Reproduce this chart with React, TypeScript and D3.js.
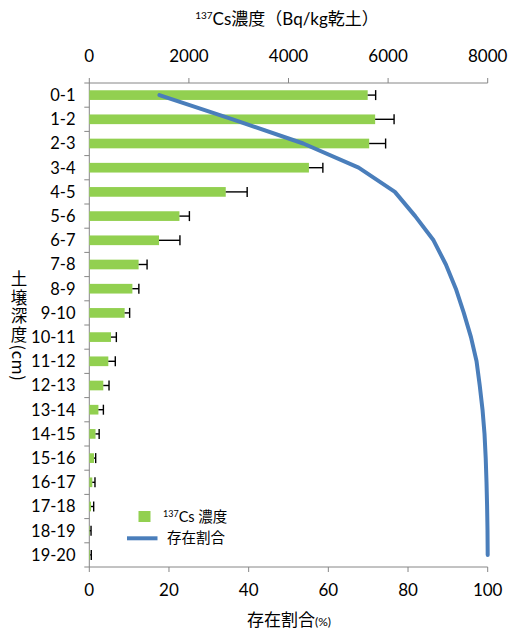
import React from "react";
import * as d3 from "d3";

// Soil depth layers (cm)
const categories = [
  "0-1", "1-2", "2-3", "3-4", "4-5", "5-6", "6-7", "7-8", "8-9", "9-10",
  "10-11", "11-12", "12-13", "13-14", "14-15", "15-16", "16-17", "17-18", "18-19", "19-20",
];

// 137Cs concentration (Bq/kg dry soil) per layer
const concentration = [
  5590, 5740, 5620, 4410, 2740, 1810, 1400, 990, 865, 710,
  436, 382, 281, 183, 125, 94, 60, 34, 10, 15,
];

// Standard deviation of the concentration
const concentrationErr = [
  160, 380, 330, 280, 430, 200, 420, 170, 130, 100,
  107, 140, 115, 100, 73, 34, 54, 54, 25, 25,
];

// Cumulative share of the total inventory (%)
const share = [
  17.6, 36.0, 53.7, 67.6, 76.7, 81.8, 86.4, 89.5, 92.0, 94.0,
  95.8, 97.2, 98.0, 98.7, 99.2, 99.5, 99.7, 99.85, 99.95, 100,
];

const concTicks = [0, 2000, 4000, 6000, 8000];
const shareTicks = [0, 20, 40, 60, 80, 100];

const W = 508;
const H = 634;
const left = 89.3;
const right = 487.7;
const top = 83;
const bottom = 567;

const LATIN = "Lato, 'Open Sans', sans-serif";
const CJK = "Lato, 'Noto Sans CJK JP', sans-serif";
const AXIS = "#868686";
const GREEN = "#92D050";
const BLUE = "#4A7EBB";

export default function App() {
  const xConc = d3.scaleLinear().domain([0, 8000]).range([left, right]);
  const xShare = d3.scaleLinear().domain([0, 100]).range([left, right]);
  const y = d3.scaleBand<string>().domain(categories).range([top, bottom]).padding(0);
  const bw = y.bandwidth();
  const barH = bw * 0.4;
  const cy = (c: string) => (y(c) as number) + bw / 2;

  const line = d3
    .line<number>()
    .x((d) => xShare(d))
    .y((_, i) => cy(categories[i]))
    .curve(d3.curveLinear);

  return (
    <svg
      width={W}
      height={H}
      style={{ position: "absolute", left: 0, top: 0, background: "#fff" }}
    >
      {/* top title */}
      <text x={287} y={25} textAnchor="middle" fontFamily={CJK} fontSize={17} fill="#000">
        <tspan fontSize={10} dy={-6}>137</tspan>
        <tspan dy={6}>Cs濃度（Bq/kg乾土）</tspan>
      </text>

      {/* top axis: concentration */}
      <line x1={left} x2={right} y1={top} y2={top} stroke={AXIS} />
      {concTicks.map((t) => (
        <g key={"ct" + t}>
          <line x1={xConc(t)} x2={xConc(t)} y1={top} y2={top - 5} stroke={AXIS} />
          <text x={xConc(t)} y={61.5} textAnchor="middle" fontFamily={LATIN} fontSize={17} fill="#000">
            {t}
          </text>
        </g>
      ))}

      {/* bottom axis: share */}
      <line x1={left} x2={right} y1={bottom} y2={bottom} stroke={AXIS} />
      {shareTicks.map((t) => (
        <g key={"st" + t}>
          <line x1={xShare(t)} x2={xShare(t)} y1={bottom} y2={bottom + 5} stroke={AXIS} />
          <text x={xShare(t)} y={596} textAnchor="middle" fontFamily={LATIN} fontSize={17} fill="#000">
            {t}
          </text>
        </g>
      ))}
      <text x={289} y={626} textAnchor="middle" fontFamily={CJK} fontSize={17} fill="#000">
        存在割合<tspan fontSize={12}>(%)</tspan>
      </text>

      {/* left axis: depth */}
      <line x1={left} x2={left} y1={top} y2={bottom} stroke={AXIS} />
      {[...categories.map((c) => y(c) as number), bottom].map((v, i) => (
        <line key={"lt" + i} x1={left - 5} x2={left} y1={v} y2={v} stroke={AXIS} />
      ))}
      {categories.map((c) => (
        <text
          key={"lb" + c}
          x={75.5}
          y={cy(c)}
          dy="0.36em"
          textAnchor="end"
          fontFamily={LATIN}
          fontSize={16.5}
          fill="#000"
        >
          {c}
        </text>
      ))}
      <text
        x={19}
        y={326}
        textAnchor="middle"
        fontFamily="'Noto Sans CJK JP', sans-serif"
        fontSize={16.5}
        fill="#000"
        style={{ writingMode: "vertical-rl" } as React.CSSProperties}
      >
        <tspan letterSpacing={2}>土壌深度</tspan>
        <tspan letterSpacing={0.5}>(cm)</tspan>
      </text>

      {/* concentration bars with error bars */}
      {categories.map((c, i) => {
        const x0 = xConc(0);
        const x1 = xConc(concentration[i]);
        const xe = xConc(concentration[i] + concentrationErr[i]);
        const yc = cy(c);
        return (
          <g key={"bar" + c}>
            <rect x={x0} y={yc - barH / 2} width={x1 - x0} height={barH} fill={GREEN} />
            <line x1={x1} x2={xe} y1={yc} y2={yc} stroke="#000" strokeWidth={1.4} />
            <line x1={xe} x2={xe} y1={yc - 5} y2={yc + 5} stroke="#000" strokeWidth={1.4} />
          </g>
        );
      })}

      {/* cumulative share line */}
      <path
        d={line(share) || ""}
        fill="none"
        stroke={BLUE}
        strokeWidth={4}
        strokeLinejoin="round"
        strokeLinecap="round"
      />

      {/* legend */}
      <rect x={138.5} y={511} width={12} height={11} fill={GREEN} />
      <text x={163} y={521.5} fontFamily={CJK} fontSize={14.5} fill="#000">
        <tspan fontSize={9} dy={-5}>137</tspan>
        <tspan dy={5}>Cs 濃度</tspan>
      </text>
      <line x1={127} x2={157.5} y1={538.3} y2={538.3} stroke={BLUE} strokeWidth={4} />
      <text x={167} y={543} fontFamily={CJK} fontSize={14.5} fill="#000">
        存在割合
      </text>
    </svg>
  );
}
